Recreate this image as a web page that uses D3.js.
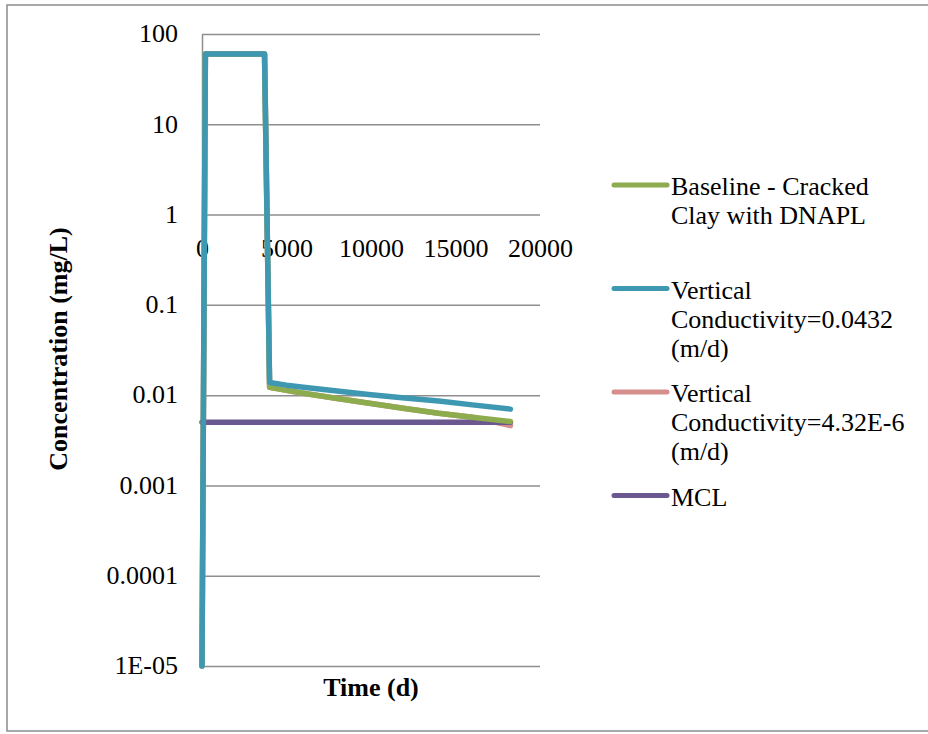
<!DOCTYPE html>
<html>
<head>
<meta charset="utf-8">
<script src="https://cdn.jsdelivr.net/npm/d3@7"></script>
<style>
  body { margin: 0; background: #fff; }
  text { font-family: "Liberation Serif", "Times New Roman", serif; fill: #000; }
</style>
</head>
<body>
<div id="chart"></div>
<script>

// time (days) at which each concentration was sampled
var times = [0, 200, 3700, 4000, 5000, 6000, 8000, 10000, 12000, 14000, 16000, 18250];

var baseline  = [1e-5, 60, 60, 0.0122, 0.0113, 0.0105, 0.0092, 0.0081, 0.0071, 0.0063, 0.0057, 0.0051];
var vertHigh  = [1e-5, 60, 60, 0.0138, 0.0129, 0.0122, 0.0111, 0.0101, 0.0093, 0.0086, 0.0078, 0.0070];
var vertLow   = [1e-5, 60, 60, 0.0122, 0.0113, 0.0105, 0.0092, 0.0081, 0.0071, 0.0063, 0.0057, 0.0046];

var mclTimes  = [0, 18250];
var mcl       = [0.005, 0.005];

var yTicks = [100, 10, 1, 0.1, 0.01, 0.001, 0.0001, 0.00001];
var yTickLabels = ["100", "10", "1", "0.1", "0.01", "0.001", "0.0001", "1E-05"];
var xTicks = [0, 5000, 10000, 15000, 20000];

var legendLabels = [
    ["Baseline - Cracked", "Clay with DNAPL"],
    ["Vertical", "Conductivity=0.0432", "(m/d)"],
    ["Vertical", "Conductivity=4.32E-6", "(m/d)"],
    ["MCL"]
];
var colors = ["#8dac4e", "#3e98b1", "#d68f8c", "#6c5890"];

var width = 928,
    height = 734,
    margin = {left: 202, right: 388, top: 34, bottom: 68},
    w = width - margin.left - margin.right,
    h = height - margin.top - margin.bottom;

var svg = d3.select("#chart").append("svg")
    .attr("width", width)
    .attr("height", height);

// outer chart frame
svg.append("rect")
    .attr("x", 7).attr("y", 5)
    .attr("width", 960).attr("height", 726)
    .attr("fill", "none")
    .attr("stroke", "#8c8c8c")
    .attr("stroke-width", 1.5);

var g = svg.append("g")
    .attr("transform", "translate(" + margin.left + "," + margin.top + ")");

var x = d3.scaleLinear().domain([0, 20000]).range([0, w]);
var y = d3.scaleLog().domain([1e-5, 100]).range([h, 0]);

var yAxis = g.append("g")
    .call(d3.axisLeft(y)
        .tickValues(yTicks)
        .tickFormat(function(d, i) { return yTickLabels[i]; })
        .tickSizeInner(-w)
        .tickSizeOuter(0)
        .tickPadding(24));
yAxis.selectAll("line").attr("stroke", "#8e8e8e").attr("stroke-width", 1.5);
yAxis.select(".domain").attr("stroke", "#8e8e8e").attr("stroke-width", 1.5);
yAxis.selectAll("text")
    .style("font-family", "Liberation Serif")
    .style("font-size", "26px")
    .attr("dy", "0.3em");

// x axis labels sit on the y=1 line, as in the original
var xAxis = g.append("g")
    .attr("transform", "translate(0," + y(1) + ")")
    .call(d3.axisBottom(x).tickValues(xTicks).tickFormat(d3.format("d")).tickSize(0).tickPadding(24));
xAxis.select(".domain").remove();
xAxis.selectAll("text")
    .style("font-family", "Liberation Serif")
    .style("font-size", "26px");

var line = d3.line()
    .x(function(d) { return x(d[0]); })
    .y(function(d) { return y(d[1]); });

var series = [
    {name: 2, pts: d3.zip(times, vertLow)},
    {name: 3, pts: d3.zip(mclTimes, mcl)},
    {name: 0, pts: d3.zip(times, baseline)},
    {name: 1, pts: d3.zip(times, vertHigh)}
];

g.selectAll(".series")
    .data(series)
    .enter()
    .append("path")
    .attr("class", "series")
    .attr("d", function(d) { return line(d.pts); })
    .attr("fill", "none")
    .attr("stroke", function(d) { return colors[d.name]; })
    .attr("stroke-width", 5.5)
    .attr("stroke-linejoin", "round")
    .attr("stroke-linecap", "round");

// legend
var legend = svg.selectAll(".legend")
    .data(legendLabels)
    .enter()
    .append("g")
    .attr("class", "legend")
    .attr("transform", function(d, i) { return "translate(612," + (185 + i * 103.5) + ")"; });

legend.append("line")
    .attr("x1", 2).attr("x2", 55)
    .attr("stroke", function(d, i) { return colors[i]; })
    .attr("stroke-width", 5)
    .attr("stroke-linecap", "round");

legend.append("text")
    .style("font-size", "26px")
    .selectAll("tspan")
    .data(function(d) { return d; })
    .enter()
    .append("tspan")
    .attr("x", 59)
    .attr("y", function(d, i) { return 10 + i * 29; })
    .text(function(d) { return d; });

svg.append("text")
    .attr("x", margin.left + w / 2)
    .attr("y", 696)
    .attr("text-anchor", "middle")
    .style("font-size", "26px")
    .style("font-weight", "bold")
    .text("Time (d)");

svg.append("text")
    .attr("transform", "translate(67,349) rotate(-90)")
    .attr("text-anchor", "middle")
    .style("font-size", "26px")
    .style("font-weight", "bold")
    .text("Concentration (mg/L)");

</script>
</body>
</html>
